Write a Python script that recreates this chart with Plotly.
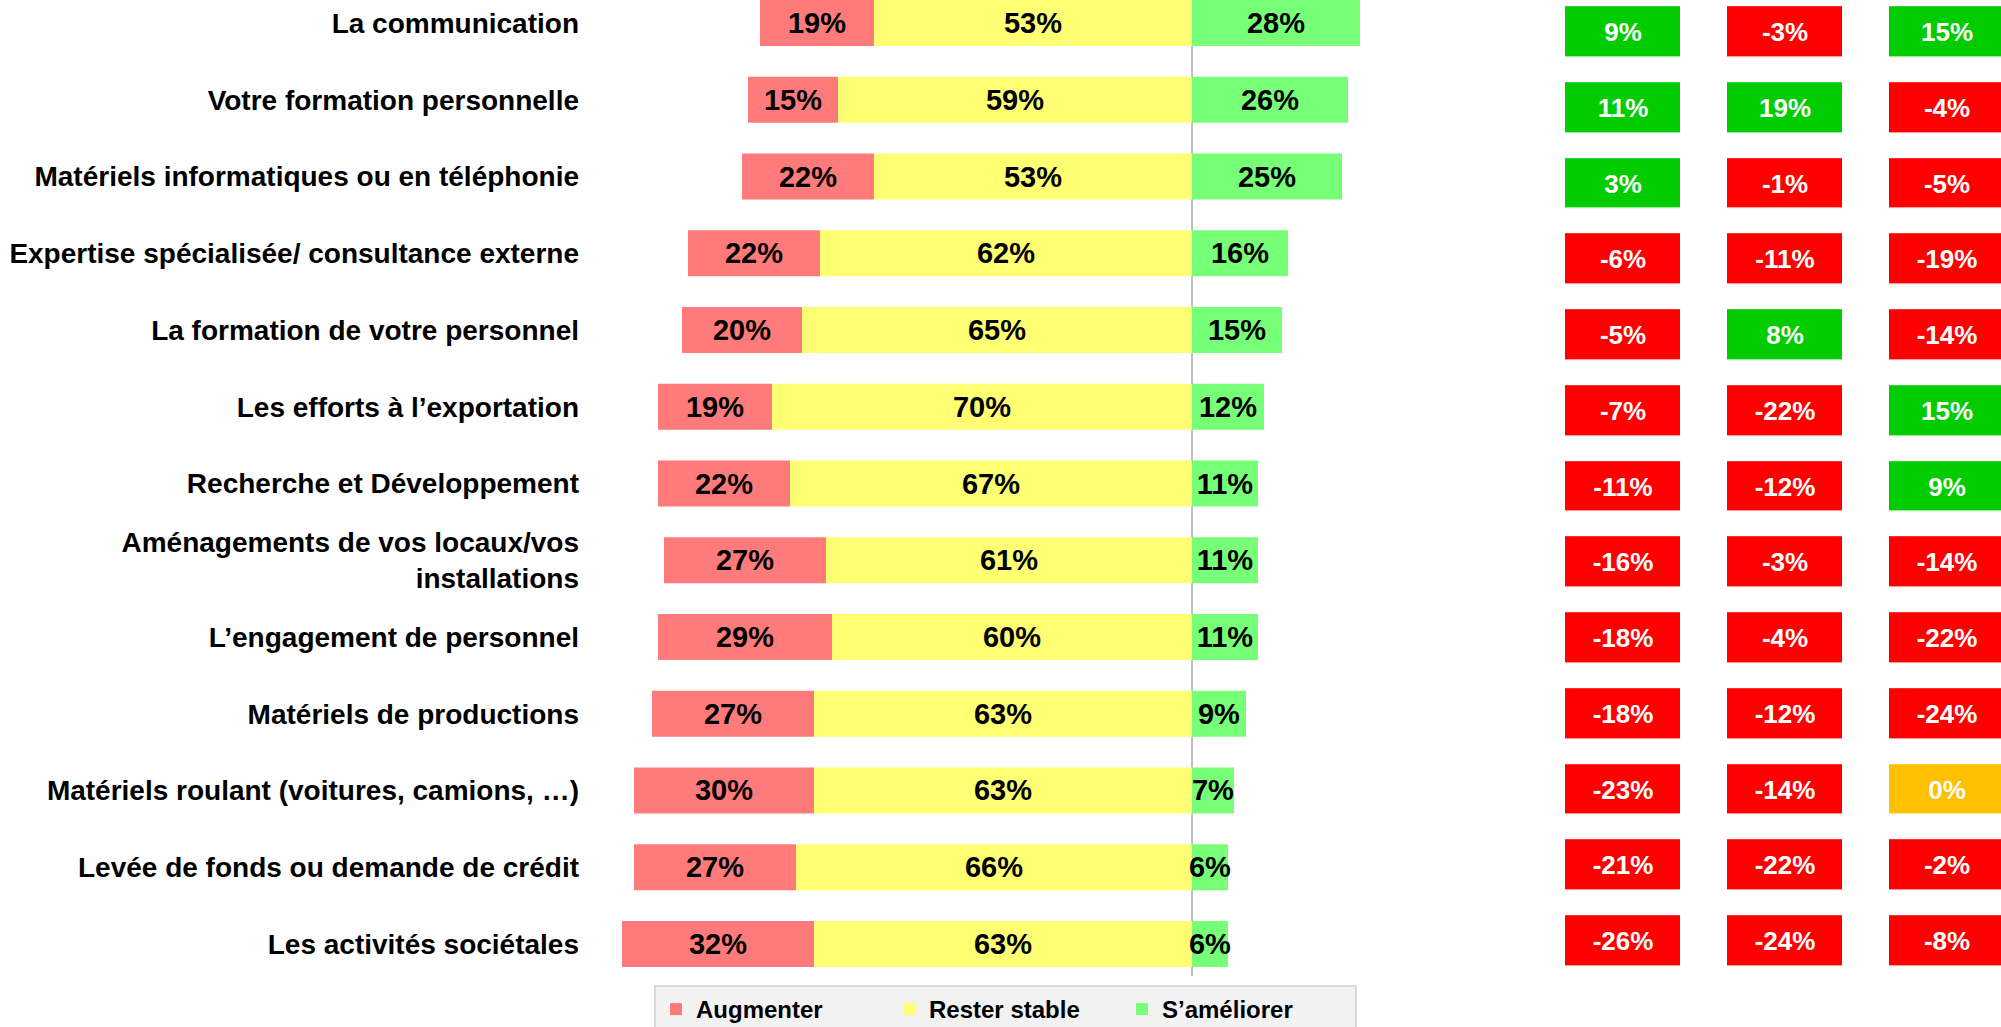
import plotly.graph_objects as go

# ---------------- data ----------------
categories = [
    "La communication",
    "Votre formation personnelle",
    "Matériels informatiques ou en téléphonie",
    "Expertise spécialisée/ consultance externe",
    "La formation de votre personnel",
    "Les efforts à l’exportation",
    "Recherche et Développement",
    "Aménagements de vos locaux/vos<br>installations",
    "L’engagement de personnel",
    "Matériels de productions",
    "Matériels roulant (voitures, camions, …)",
    "Levée de fonds ou demande de crédit",
    "Les activités sociétales",
]
augmenter = [19, 15, 22, 22, 20, 19, 22, 27, 29, 27, 30, 27, 32]
rester_stable = [53, 59, 53, 62, 65, 70, 67, 61, 60, 63, 63, 66, 63]
ameliorer = [28, 26, 25, 16, 15, 12, 11, 11, 11, 9, 7, 6, 6]
series_names = ["Augmenter", "Rester stable", "S’améliorer"]

evolution_col1 = [9, 11, 3, -6, -5, -7, -11, -16, -18, -18, -23, -21, -26]
evolution_col2 = [-3, 19, -1, -11, 8, -22, -12, -3, -4, -12, -14, -22, -24]
evolution_col3 = [15, -4, -5, -19, -14, 15, 9, -14, -22, -24, 0, -2, -8]
evolution_columns = [0, 1, 2]

# ---------------- styles ----------------
FONT = "Arial, Liberation Sans, sans-serif"
RED_BAR = "#ff7b7b"
YELLOW_BAR = "#ffff73"
GREEN_BAR = "#78ff78"
BOX_RED = "#ff0000"
BOX_AMBER = "#ffc000"
BOX_GREEN = "#00cc00"

W, H = 2001, 1027

fig = go.Figure()

# stacked diverging bars: red and yellow on the negative side, green positive
neg_red_base = [-(a + s) for a, s in zip(augmenter, rester_stable)]
neg_yel_base = [-s for s in rester_stable]

bar_common = dict(
    orientation="h",
    width=0.6,
    textposition="inside",
    insidetextanchor="middle",
    textangle=0,
    constraintext="none",
    insidetextfont=dict(family=FONT, size=29, color="black", weight="bold"),
    hoverinfo="skip",
)

fig.add_trace(go.Bar(
    y=categories, x=augmenter, base=neg_red_base, name=series_names[0],
    text=[f"{v}%" for v in augmenter], marker=dict(color=RED_BAR, line=dict(width=0)),
    **bar_common))
fig.add_trace(go.Bar(
    y=categories, x=rester_stable, base=neg_yel_base, name=series_names[1],
    text=[f"{v}%" for v in rester_stable], marker=dict(color=YELLOW_BAR, line=dict(width=0)),
    **bar_common))
fig.add_trace(go.Bar(
    y=categories, x=ameliorer, base=[0] * len(ameliorer), name=series_names[2],
    text=[f"{v}%" for v in ameliorer], marker=dict(color=GREEN_BAR, line=dict(width=0)),
    **bar_common))

# evolution boxes as a gapped heatmap
z = [[a, b, c] for a, b, c in zip(evolution_col1, evolution_col2, evolution_col3)]
ztext = [[f"{v}%" for v in row] for row in z]
zlim = 30
fig.add_trace(go.Heatmap(
    x=evolution_columns, y=categories, z=z, text=ztext,
    texttemplate="%{text}",
    textfont=dict(family=FONT, size=26, color="white", weight="bold"),
    zmin=-zlim, zmax=zlim,
    colorscale=[[0, BOX_RED], [0.49, BOX_RED], [0.49, BOX_AMBER], [0.51, BOX_AMBER],
                [0.51, BOX_GREEN], [1, BOX_GREEN]],
    showscale=False, xgap=47, ygap=25.75,
    xaxis="x2", yaxis="y2", hoverinfo="skip",
))

# ---------------- layout geometry ----------------
n = len(categories)
px_per_pct = 6.0
zero_px = 1192
x_left_px, x_right_px = 600, 1400
dom_bottom = 0.05
bottom_px = H * (1 - dom_bottom)

bar_c0, bar_pitch = 23.0, 76.75
y_range = [(bottom_px - bar_c0) / bar_pitch, (0 - bar_c0) / bar_pitch]

box_c0, box_pitch = 32.0, 75.75
y2_range = [(bottom_px - box_c0) / box_pitch, (0 - box_c0) / box_pitch]

col_c0, col_pitch = 1623.0, 162.0
x2_left_px = 1540
x2_range = [(x2_left_px - col_c0) / col_pitch, (W - col_c0) / col_pitch]

fig.update_layout(
    width=W, height=H,
    margin=dict(l=0, r=0, t=0, b=0, autoexpand=False),
    paper_bgcolor="white", plot_bgcolor="rgba(0,0,0,0)",
    barmode="overlay",
    uniformtext=dict(minsize=29, mode="show"),
    font=dict(family=FONT, color="black"),
    xaxis=dict(
        domain=[x_left_px / W, x_right_px / W],
        range=[(x_left_px - zero_px) / px_per_pct, (x_right_px - zero_px) / px_per_pct],
        showgrid=False, showticklabels=False, ticks="",
        zeroline=True, zerolinecolor="#bfbfbf", zerolinewidth=1.5,
        layer="above traces", fixedrange=True,
    ),
    yaxis=dict(
        domain=[dom_bottom, 1], type="category",
        categoryorder="array", categoryarray=categories,
        range=y_range, showgrid=False, zeroline=False, ticks="",
        tickfont=dict(family=FONT, size=28, color="black", weight="bold"),
        ticklabelstandoff=20, fixedrange=True,
    ),
    xaxis2=dict(
        domain=[x2_left_px / W, 1], range=x2_range, anchor="y2",
        showgrid=False, showticklabels=False, zeroline=False, ticks="", fixedrange=True,
    ),
    yaxis2=dict(
        domain=[dom_bottom, 1], anchor="x2", type="category",
        categoryorder="array", categoryarray=categories,
        range=y2_range, showgrid=False, showticklabels=False, zeroline=False, ticks="",
        fixedrange=True,
    ),
    showlegend=True,
    legend=dict(
        orientation="h", traceorder="normal",
        x=654 / W, y=(H - 985) / H, xanchor="left", yanchor="top",
        bgcolor="#f2f2f2", bordercolor="#d9d9d9", borderwidth=2,
        font=dict(family=FONT, size=24, color="black", weight="bold"),
        entrywidth=188, entrywidthmode="pixels",
    ),
)

fig.write_html("out.html", config={"displayModeBar": False},
               post_script="document.body.style.margin='0';")
